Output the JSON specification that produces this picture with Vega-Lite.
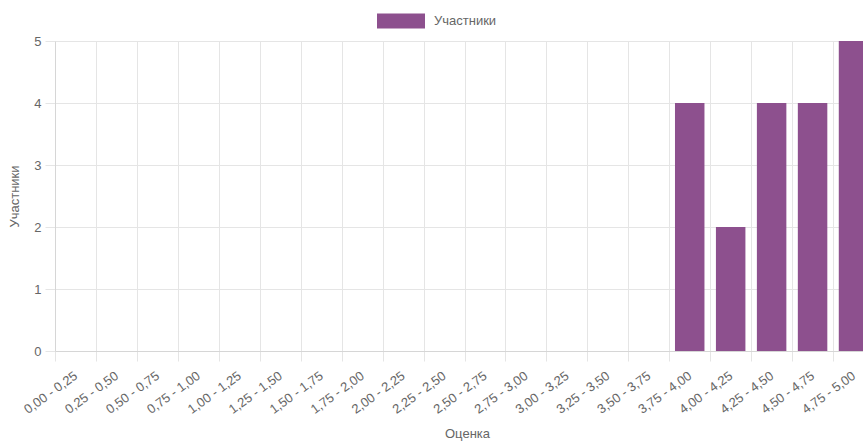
{
  "$schema": "https://vega.github.io/schema/vega-lite/v6.json",
  "width": 808,
  "height": 310,
  "autosize": {"type": "none"},
  "padding": {"left": 55, "top": 41, "right": 0, "bottom": 92},
  "config": {
    "font": "Liberation Sans",
    "view": {"stroke": null},
    "axis": {
      "labelFont": "Liberation Sans",
      "labelFontSize": 13,
      "labelColor": "#666666",
      "titleFont": "Liberation Sans",
      "titleFontSize": 13,
      "titleFontWeight": "normal",
      "titleColor": "#666666",
      "grid": true,
      "gridColor": "#e5e5e5",
      "tickColor": "#e5e5e5",
      "domainColor": "#d6d6d6",
      "tickSize": 10
    }
  },
  "data": {
    "values": [
      {"interval": "0,00 - 0,25", "count": 0},
      {"interval": "0,25 - 0,50", "count": 0},
      {"interval": "0,50 - 0,75", "count": 0},
      {"interval": "0,75 - 1,00", "count": 0},
      {"interval": "1,00 - 1,25", "count": 0},
      {"interval": "1,25 - 1,50", "count": 0},
      {"interval": "1,50 - 1,75", "count": 0},
      {"interval": "1,75 - 2,00", "count": 0},
      {"interval": "2,00 - 2,25", "count": 0},
      {"interval": "2,25 - 2,50", "count": 0},
      {"interval": "2,50 - 2,75", "count": 0},
      {"interval": "2,75 - 3,00", "count": 0},
      {"interval": "3,00 - 3,25", "count": 0},
      {"interval": "3,25 - 3,50", "count": 0},
      {"interval": "3,50 - 3,75", "count": 0},
      {"interval": "3,75 - 4,00", "count": 4},
      {"interval": "4,00 - 4,25", "count": 2},
      {"interval": "4,25 - 4,50", "count": 4},
      {"interval": "4,50 - 4,75", "count": 4},
      {"interval": "4,75 - 5,00", "count": 5}
    ]
  },
  "mark": {"type": "bar", "clip": true, "width": {"band": 0.72}},
  "encoding": {
    "x": {
      "field": "interval",
      "type": "nominal",
      "sort": null,
      "scale": {"range": [0, 819], "paddingInner": 0, "paddingOuter": 0},
      "axis": {
        "title": "Оценка",
        "grid": true,
        "tickBand": "extent",
        "labelAngle": -36,
        "labelAlign": "right",
        "labelBaseline": "middle",
        "labelPadding": 13,
        "titleX": 412,
        "titleY": 86,
        "titleAlign": "center",
        "titleBaseline": "alphabetic"
      }
    },
    "y": {
      "field": "count",
      "type": "quantitative",
      "scale": {"domain": [0, 5], "nice": false},
      "axis": {
        "title": "Участники",
        "values": [0, 1, 2, 3, 4, 5],
        "labelPadding": 4,
        "titleX": -41,
        "titleY": 155,
        "titleAngle": -90,
        "titleAlign": "center",
        "titleBaseline": "middle"
      }
    },
    "color": {
      "datum": "Участники",
      "scale": {"range": ["#8d508e"]},
      "legend": {
        "title": null,
        "orient": "none",
        "legendX": 322,
        "legendY": -44,
        "symbolType": "M-1,-0.31H1V0.31H-1Z",
        "symbolSize": 2304,
        "symbolStrokeWidth": 0,
        "symbolOpacity": 1,
        "labelOffset": 9,
        "labelFontSize": 13,
        "labelColor": "#666666",
        "labelFont": "Liberation Sans"
      }
    }
  }
}
